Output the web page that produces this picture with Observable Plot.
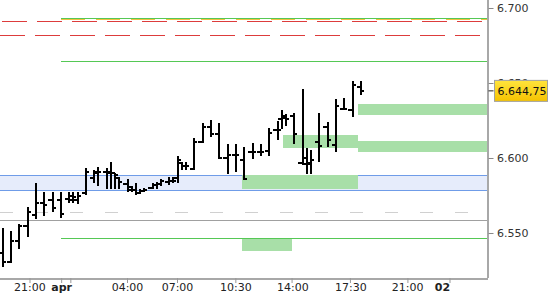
<!DOCTYPE html>
<html><head><meta charset="utf-8">
<script src="https://cdn.jsdelivr.net/npm/d3@7"></script>
<script src="https://cdn.jsdelivr.net/npm/@observablehq/plot@0.6"></script>
<style>
html,body{margin:0;padding:0;background:#fff;}
#chart svg{display:block;}
</style></head><body><div id="chart"></div>
<script>
// 15-minute bar slots (index) and OHLC values
const slot  = [0,2,4,6,8,10,12,14,16,17,18,20,22,23,25,26,27,28,30,31,32,33,34,36,37,38,40,41,42,43,44,46,48,50,52,54,56,58,60,62,64,66,67,68,70,72,73,74,76,78,80,82,84,86];
const open  = [6537,6531,6545,6555,6562,6570,6572,6572, 6573,6572,6572, 6577,6587,6591,6591,6590,6590,6587, 6583,6581,6579,6577,6578, 6580,6582,6583, 6584,6585,6587,6597,6595, 6593, 6611,6621,6616,6600,6602,6599,6604,6604, 6605,6619,6626,6628,6628, 6597,6596.5,6597, 6611,6621,6609,6633,6632,6647.5];
const high  = [6553,6551,6556,6567,6583,6577,6577,6577, 6577.5,6577,6577, 6593,6592,6594,6593,6597,6590,6587, 6586,6581,6583,6579,6580, 6583,6584,6586, 6587,6587,6601,6597.5,6597, 6613, 6623,6625,6623,6609,6609,6607,6610,6609, 6620,6624.5,6632,6629,6630, 6646,6606.5,6605, 6630,6624,6639,6640,6651.5,6651.5];
const low   = [6527,6530,6539,6547,6559,6561,6564,6560, 6570,6570,6569, 6575,6583,6581,6579,6579,6579,6579, 6577,6577,6575,6576,6577, 6579,6579,6581, 6582,6583,6583.5,6592,6592, 6592, 6610,6614,6599,6589,6590.5,6585,6599,6601, 6601,6612,6619,6621,6609, 6595,6589,6589, 6597.5,6607.5,6604,6632,6627.5,6642];
const close = [6531,6545,6555,6564,6570,6569,6567,6563, 6575,6574,6575, 6591,6590,6591,6591,6590,6589,6584, 6579,6579,6577,6578,6579, 6582,6583,6585, 6585,6585,6599,6595,6595, 6611, 6621,6616,6600,6602,6602,6586,6604,6604, 6617,6619,6627,6626,6616, 6600,6596.5,6599, 6608,6612,6635,6633,6649,6644.75];

// horizontal levels
const redDashLevels   = [6691.1, 6682];
const greenLineLevels = [6693.1, 6664.5, 6546.5];
const yellowLevels    = [6692.4];
const bandLevels      = [6578.5, 6588.7];
const grayDashLevels  = [6564.3];
const graySolidLevels = [6558.5];
const levelStart      = 14.2;

// green zones (slot start / end, price bottom / top); null end = right edge
const zoneStart = [85.5, 85.5, 67.5, 57.6, 57.6];
const zoneEnd   = [null, null, 85.5, 85.5, 69.5];
const zoneLow   = [6628.7, 6604, 6606.5, 6579.3, 6538];
const zoneHigh  = [6636, 6611.3, 6615.3, 6588.7, 6546.5];

// axis ticks and labels
const yTicks     = [6550, 6600, 6650, 6700];
const xTickPos   = [6.6, 14.2, 16.4, 30, 42, 56, 69.5, 83.5, 97.3, 107.4];
const xLabelPos  = [6.55, 30, 42, 56, 69.7, 83.6, 97.25];
const xLabelText = ["21:00", "04:00", "07:00", "10:30", "14:00", "17:30", "21:00"];
const dayLabelPos  = [14.2, 105.6];
const dayLabelText = ["apr", "02"];

const xDomain = [-0.48, 116.52];
const yDomain = [6520, 6705.33];

const bars = slot.map((k, i) => ({k, o: open[i], h: high[i], l: low[i], c: close[i]}));
const zones = zoneStart.map((s, i) => ({x1: s, x2: zoneEnd[i] == null ? xDomain[1] : zoneEnd[i], y1: zoneLow[i], y2: zoneHigh[i]}));
const xLabels = xLabelPos.map((k, i) => ({k, t: xLabelText[i]}));
const dayLabels = dayLabelPos.map((k, i) => ({k, t: dayLabelText[i]}));

const loc = d3.formatLocale({decimal: ",", thousands: ".", grouping: [3], currency: ["", ""]});
const fmtTick = loc.format(",.0f");
const fmtPrice = loc.format(",.2f");

const tickLen = 0.85;
const crisp = {shapeRendering: "crispEdges"};

const plot = Plot.plot({
  width: 550, height: 300,
  marginLeft: 0, marginRight: 62.5, marginTop: 0, marginBottom: 22,
  x: {domain: xDomain, axis: null},
  y: {domain: yDomain, axis: null},
  style: {fontFamily: "'DejaVu Sans', sans-serif", fontSize: "11px", background: "#fff", overflow: "visible"},
  marks: [
    Plot.rect([{y1: bandLevels[0], y2: bandLevels[1]}], {x1: () => xDomain[0], x2: () => xDomain[1], y1: "y1", y2: "y2", fill: "#e6ecfb", ...crisp}),
    Plot.ruleY(bandLevels, {stroke: "#6f9ce8", strokeWidth: 1, ...crisp}),
    Plot.ruleY(grayDashLevels, {stroke: "#d0d0d0", strokeDasharray: "13,22", ...crisp}),
    Plot.ruleY(graySolidLevels, {stroke: "#a0a0a0", ...crisp}),
    Plot.rect(zones, {x1: "x1", x2: "x2", y1: "y1", y2: "y2", fill: "#a8dfa8", ...crisp}),
    Plot.ruleY(greenLineLevels, {x1: () => levelStart, x2: () => xDomain[1], stroke: "#55c855", ...crisp}),
    Plot.ruleY(yellowLevels, {x1: () => levelStart, x2: () => xDomain[1], stroke: "#f0c040", strokeDasharray: "24,11", ...crisp}),
    Plot.ruleY([redDashLevels[0]], {stroke: "#dd3c3c", strokeDasharray: "25,10", strokeDashoffset: 33, ...crisp}),
    Plot.ruleY([redDashLevels[1]], {stroke: "#dd3c3c", strokeDasharray: "25,10", ...crisp}),
    Plot.ruleX(bars, {x: "k", y1: "l", y2: "h", stroke: "#000", strokeWidth: 2, ...crisp}),
    Plot.ruleY(bars, {x1: d => d.k - tickLen, x2: "k", y: "o", stroke: "#000", strokeWidth: 2, ...crisp}),
    Plot.ruleY(bars, {x1: "k", x2: d => d.k + tickLen, y: "c", stroke: "#000", strokeWidth: 2, ...crisp}),
    Plot.ruleX([xDomain[1]], {stroke: "#a8a8a8", strokeWidth: 2, ...crisp}),
    Plot.ruleY([yDomain[0]], {stroke: "#a8a8a8", strokeWidth: 2, ...crisp}),
    Plot.axisY({ticks: yTicks, anchor: "right", tickSize: 5, tickPadding: 4, tickFormat: fmtTick, stroke: "#888", fill: "#333"}),
    Plot.axisX({ticks: xTickPos, anchor: "bottom", tickSize: 5, tickFormat: () => "", stroke: "#999"}),
    Plot.text(xLabels, {x: "k", text: "t", frameAnchor: "bottom", dy: 12, fill: "#222", fontSize: 11}),
    Plot.text(dayLabels, {x: "k", text: "t", frameAnchor: "bottom", dy: 12, fill: "#222", fontSize: 11, fontWeight: "bold"})
  ]
});

document.getElementById("chart").appendChild(plot);

// last-price marker box on the right axis (covers the 6.650 tick label as in the reference)
const svg = d3.select(plot);
const yPx = plot.scale("y").apply(close[close.length - 1]);
const xAxisPx = plot.scale("x").apply(xDomain[1]);
const defs = svg.insert("defs", ":first-child");
const g = defs.append("linearGradient").attr("id", "goldGrad").attr("x1", 0).attr("y1", 0).attr("x2", 0).attr("y2", 1);
g.append("stop").attr("offset", "0%").attr("stop-color", "#ffe43d");
g.append("stop").attr("offset", "100%").attr("stop-color", "#f5c300");
const pg = svg.append("g").attr("text-anchor", "start");
pg.append("line").attr("x1", xAxisPx + 1).attr("x2", xAxisPx + 6).attr("y1", yPx).attr("y2", yPx).attr("stroke", "#222");
pg.append("rect").attr("x", xAxisPx + 7).attr("y", yPx - 10.5).attr("width", 53).attr("height", 21)
  .attr("fill", "url(#goldGrad)").attr("stroke", "#a0a0a0");
pg.append("text").attr("x", xAxisPx + 10).attr("y", yPx + 4).attr("fill", "#111")
  .attr("text-anchor", "start").attr("font-size", 11).text(fmtPrice(close[close.length - 1]));
</script>
</body></html>
